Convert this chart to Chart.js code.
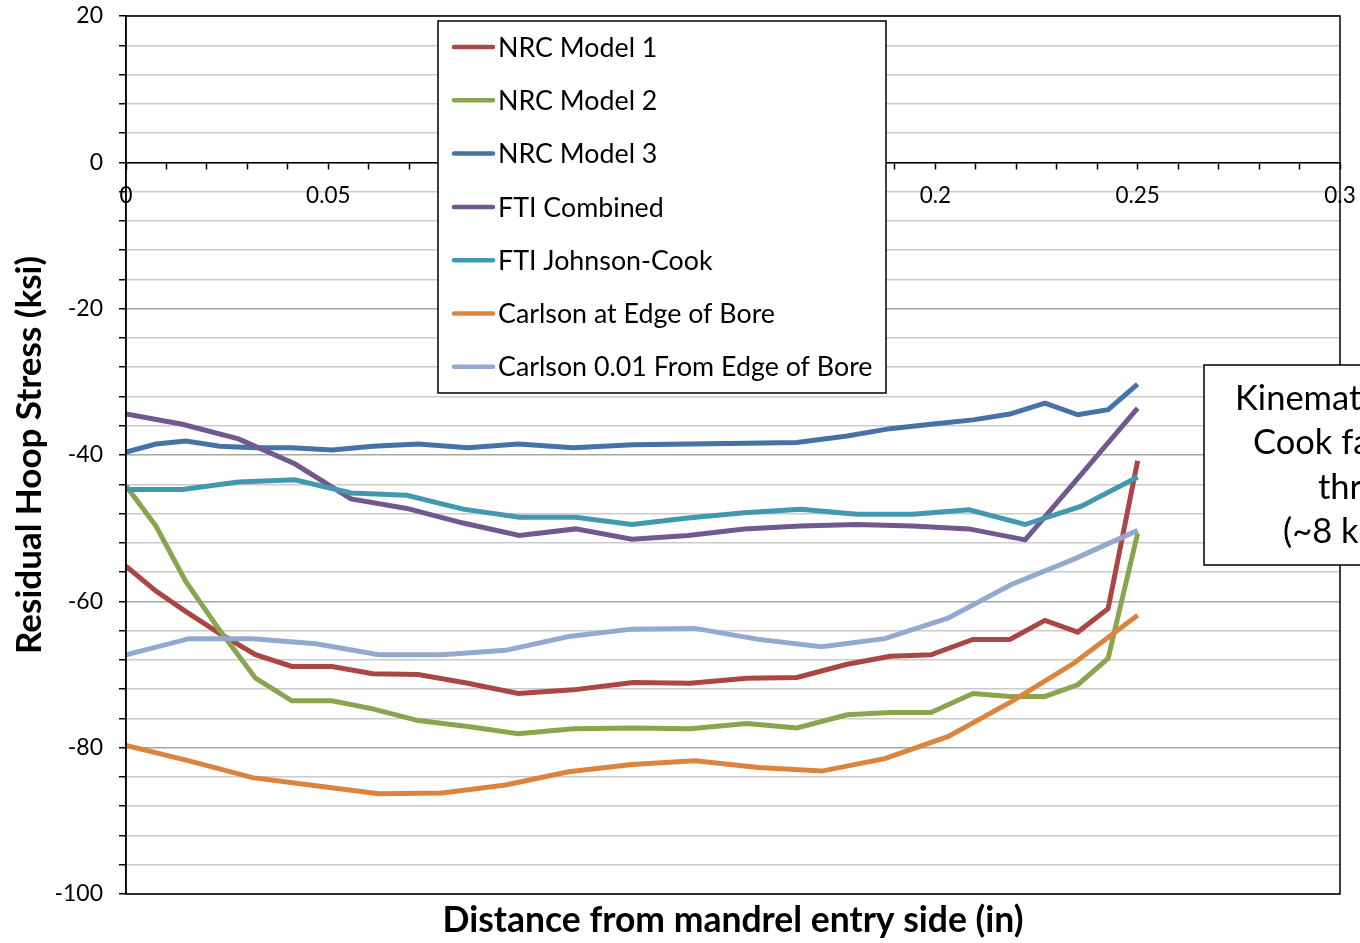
<!DOCTYPE html>
<html>
<head>
<meta charset="utf-8">
<style>
  html, body { margin: 0; padding: 0; background: #fff; }
</style>
</head>
<body>
  <canvas id="myChart" width="1360" height="943"></canvas>

<script src="https://cdn.jsdelivr.net/npm/chart.js@4.4.0/dist/chart.umd.min.js"></script>

<script>
  // NRC models share one (graded) mesh, FTI and Carlson runs have their own
  const nrcX = [0, 0.0074, 0.0148, 0.0232, 0.032, 0.041, 0.0509, 0.061, 0.0722, 0.0845, 0.0969, 0.1105, 0.1253,
    0.1394, 0.1534, 0.1658, 0.1782, 0.1888, 0.1989, 0.2093, 0.2184, 0.2271, 0.2352, 0.2427, 0.25]
  const nrcModel1 = [-55.2, -58.6, -61.4, -64.4, -67.3, -68.9, -68.9, -69.9, -70.0, -71.2, -72.6, -72.1, -71.1,
    -71.2, -70.5, -70.4, -68.6, -67.5, -67.3, -65.2, -65.2, -62.6, -64.2, -61.0, -40.8]
  const nrcModel2 = [-44.2, -49.7, -57.3, -64.0, -70.5, -73.6, -73.6, -74.7, -76.3, -77.1, -78.1, -77.4, -77.3,
    -77.4, -76.7, -77.3, -75.5, -75.2, -75.2, -72.6, -73.0, -73.0, -71.4, -67.8, -50.7]
  const nrcModel3 = [-39.6, -38.5, -38.1, -38.8, -39.0, -39.0, -39.3, -38.8, -38.5, -39.0, -38.5, -39.0, -38.6,
    -38.5, -38.4, -38.3, -37.4, -36.4, -35.8, -35.2, -34.4, -32.9, -34.5, -33.8, -30.3]

  const ftiX = [0, 0.0139, 0.0278, 0.0417, 0.0556, 0.0694, 0.0833, 0.0972, 0.1111, 0.125, 0.1389, 0.1528,
    0.1667, 0.1806, 0.1944, 0.2083, 0.2222, 0.2361, 0.25]
  const ftiCombined = [-34.4, -35.8, -37.8, -41.2, -46.0, -47.3, -49.3, -51.0, -50.1, -51.5, -51.0, -50.1,
    -49.7, -49.5, -49.7, -50.1, -51.6, -42.6, -33.6]
  const ftiJohnsonCook = [-44.7, -44.7, -43.7, -43.4, -45.2, -45.5, -47.4, -48.5, -48.5, -49.5, -48.6, -47.9,
    -47.4, -48.1, -48.1, -47.5, -49.5, -47.0, -43.0]

  const carlsonX = [0, 0.0156, 0.0313, 0.0469, 0.0625, 0.0781, 0.0938, 0.1094, 0.125, 0.1406, 0.1563, 0.1719,
    0.1875, 0.2031, 0.2188, 0.2344, 0.25]
  const carlsonEdge = [-79.7, -81.8, -84.1, -85.2, -86.3, -86.2, -85.1, -83.3, -82.3, -81.8, -82.7, -83.2,
    -81.5, -78.5, -73.7, -68.4, -61.9]
  const carlson001 = [-67.3, -65.1, -65.1, -65.8, -67.3, -67.3, -66.7, -64.8, -63.8, -63.7, -65.2, -66.2,
    -65.1, -62.3, -57.7, -54.2, -50.3]

  const seriesNames = ['NRC Model 1', 'NRC Model 2', 'NRC Model 3', 'FTI Combined', 'FTI Johnson-Cook',
    'Carlson at Edge of Bore', 'Carlson 0.01 From Edge of Bore']
  const seriesColors = ['#AA4643', '#89A54E', '#4572A7', '#71588F', '#4198AF', '#DB843D', '#93A9CF']

  const xTitle = 'Distance from mandrel entry side (in)'
  const yTitle = 'Residual Hoop Stress (ksi)'
  const noteLines = ['Kinematic and Johnson-', 'Cook fall below the', 'threshold', '(~8 ksi) criterion']

  const FONT = 'Lato'

  const pairs = (xs, ys) => xs.map((x, i) => ({ x: x, y: ys[i] }))

  const seriesData = [
    pairs(nrcX, nrcModel1),
    pairs(nrcX, nrcModel2),
    pairs(nrcX, nrcModel3),
    pairs(ftiX, ftiCombined),
    pairs(ftiX, ftiJohnsonCook),
    pairs(carlsonX, carlsonEdge),
    pairs(carlsonX, carlson001)
  ]

  // plot frame, x title, boxed legend and the clipped note on the right
  const decorations = {
    id: 'decorations',
    afterDraw(chart) {
      const ctx = chart.ctx
      const a = chart.chartArea
      ctx.save()
      ctx.strokeStyle = '#000'
      ctx.lineWidth = 1.5
      ctx.strokeRect(a.left, a.top, a.right - a.left, a.bottom - a.top)

      ctx.fillStyle = '#000'
      ctx.font = 'bold 35.5px ' + FONT
      ctx.textAlign = 'center'
      ctx.textBaseline = 'middle'
      ctx.fillText(xTitle, (a.left + a.right) / 2, 921)

      // legend
      ctx.fillStyle = '#fff'
      ctx.fillRect(438, 21, 448, 372)
      ctx.strokeRect(438, 21, 448, 372)
      ctx.font = '26.8px ' + FONT
      ctx.textAlign = 'left'
      chart.data.datasets.forEach((ds, i) => {
        const y = 47 + i * 53.3
        ctx.strokeStyle = ds.borderColor
        ctx.lineWidth = 4.5
        ctx.lineCap = 'round'
        ctx.beginPath()
        ctx.moveTo(454, y)
        ctx.lineTo(493, y)
        ctx.stroke()
        ctx.fillStyle = '#000'
        ctx.fillText(ds.label, 498, y + 1)
      })

      // note box
      ctx.fillStyle = '#fff'
      ctx.fillRect(1204, 365, 200, 200)
      ctx.strokeStyle = '#000'
      ctx.lineWidth = 1.5
      ctx.strokeRect(1204, 365, 200, 200)
      ctx.fillStyle = '#000'
      ctx.font = '34.5px ' + FONT
      const starts = [1235, 1253, 1318, 1283]
      noteLines.forEach((t, i) => ctx.fillText(t, starts[i], 399 + i * 44.3))
      ctx.restore()
    }
  }

  const ctx = document.getElementById('myChart')

  new Chart(ctx, {
    type: 'line',
    data: {
      datasets: seriesData.map((d, i) => ({
        label: seriesNames[i],
        data: d,
        borderColor: seriesColors[i],
        backgroundColor: seriesColors[i],
        borderWidth: 5,
        pointRadius: 0,
        tension: 0,
        fill: false,
        order: seriesNames.length - i
      }))
    },
    options: {
      responsive: false,
      animation: false,
      devicePixelRatio: 1,
      layout: { padding: { left: 0, top: 16, right: 20, bottom: 49 } },
      plugins: {
        legend: { display: false },
        tooltip: { enabled: false },
        title: { display: false }
      },
      scales: {
        x: {
          type: 'linear',
          position: { y: 0 },
          min: 0,
          max: 0.3,
          afterFit: s => { s.paddingLeft = 0; s.paddingRight = 0 },
          grid: { drawOnChartArea: false, drawTicks: true, tickLength: 6, tickColor: '#000', tickWidth: 1.5 },
          border: { display: true, color: '#000', width: 1.5 },
          ticks: {
            stepSize: 0.01,
            autoSkip: false,
            maxTicksLimit: 100,
            maxRotation: 0,
            padding: 14,
            color: '#000',
            font: { family: FONT, size: 22.5 },
            callback: v => Math.round(v * 100) % 5 === 0 ? String(Math.round(v * 100) / 100) : ''
          }
        },
        y: {
          position: 'left',
          min: -100,
          max: 20,
          afterFit: s => { s.width = 126; s.paddingTop = 0; s.paddingBottom = 0 },
          grid: {
            color: c => c.tick && c.tick.value % 20 === 0 ? '#a6a6a6' : '#cbcbcb',
            lineWidth: 1.5,
            tickLength: 7,
            tickColor: '#000',
            tickWidth: 1.5
          },
          border: { display: true, color: '#000', width: 1.5 },
          ticks: {
            stepSize: 4,
            autoSkip: false,
            maxTicksLimit: 100,
            padding: 16,
            color: '#000',
            font: { family: FONT, size: 23 },
            callback: v => v % 20 === 0 ? String(v) : ''
          },
          title: {
            display: true,
            text: yTitle,
            color: '#000',
            font: { family: FONT, size: 35, weight: 'bold' },
            padding: { top: 9, bottom: 0 }
          }
        }
      }
    },
    plugins: [decorations]
  })
</script>
</body>
</html>
